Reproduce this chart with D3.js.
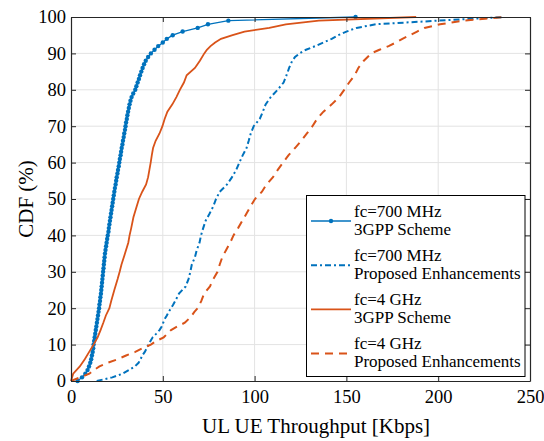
<!DOCTYPE html>
<html>
<head>
<meta charset="utf-8">
<script src="https://cdn.jsdelivr.net/npm/d3@7"></script>
<style>
  body { margin: 0; background: #fff; }
  svg { display: block; font-family: "Liberation Serif", "Times New Roman", serif; }
</style>
</head>
<body>
<svg id="chart" width="544" height="441"></svg>
<script>
// CDF levels (%) and throughput (Kbps) for each curve
const LEVELS_700_3GPP = [0,1,2,3,4,5,6,7,8,9,10,11,12,13,14,15,16,17,18,19,20,21,22,23,24,25,26,27,28,29,30,31,32,33,34,35,36,37,38,39,40,41,42,43,44,45,46,47,48,49,50,51,52,53,54,55,56,57,58,59,60,61,62,63,64,65,66,67,68,69,70,71,72,73,74,75,76,77,78,79,80,81,82,83,84,85,86,87,88,89,90,91,92,93,94,95,96,97,98,99,100]
const TPUT_700_3GPP = [3.6,6.0,7.8,9.0,9.8,10.5,11.0,11.4,11.8,12.1,12.3,12.6,12.9,13.2,13.5,13.8,14.1,14.4,14.7,15.0,15.3,15.5,15.8,16.0,16.3,16.5,16.7,16.9,17.1,17.3,17.5,17.7,17.9,18.1,18.3,18.5,18.8,19.1,19.4,19.7,20.0,20.4,20.6,20.9,21.2,21.5,21.8,22.1,22.4,22.7,23.0,23.3,23.6,23.9,24.3,24.6,24.9,25.3,25.6,26.0,26.3,26.6,27.0,27.3,27.6,28.0,28.3,28.7,29.0,29.4,29.7,30.0,30.4,30.7,31.1,31.5,31.9,32.4,33.0,33.9,35.0,35.6,36.3,37.0,37.6,38.3,39.0,39.8,40.7,42.0,43.5,45.5,47.5,50.0,52.2,55.4,60.8,69.0,74.6,85.7,155]

const LEVELS_700_PROP = [0,1,2,3,4,5,6,7,8,9,10,11,12,13,14,15,16,17,18,19,20,21,22,24,26,28,30,32,34,36,38,40,42,44,46,48,50,52,54,56,58,60,62,64,66,68,70,72,74,76,78,80,82,84,86,88,89,90,91,92,93,94,95,96,97,98,99,100]
const TPUT_700_PROP = [14,22.5,28,31.5,34.8,36.8,37.9,38.8,40.2,41.2,42.2,43.3,44.5,46.5,48.2,49.5,50.2,51,52.2,53.2,54.5,55.7,56.8,58.8,62.5,64,65,65.8,67.5,68.5,70,70.8,72,73.3,75.5,77.5,79,81,85,87.7,90,91.7,93.5,95.6,96.8,97.9,99.5,102.8,104.5,106,108.8,112.5,115.8,117.4,118.8,120.5,122,124.5,128,133,137.5,142,145.5,150,155.5,166,200,236]

const LEVELS_4G_3GPP = [0,2,4,6,8,10,12,14,16,18,20,22,25,28,30,32,35,38,40,42,45,48,50,52,54,56,58,60,62,64,66,68,70,72,74,76,78,80,82,84,86,88,90,91,92,93,94,95,96,97,98,99,100]
const TPUT_4G_3GPP = [0,1.2,4.8,7.5,9.9,12.3,14.5,16.1,17.6,19.0,20.9,21.9,23.6,25.4,26.5,27.5,29.4,31.2,31.9,32.8,34.0,35.8,37.0,38.8,40.9,42.0,42.7,43.4,44.0,44.7,46.1,48.2,49.8,51.0,52.5,55.2,57.4,59.3,61.5,63.0,67.5,70.2,72.6,74.0,76.0,78.5,81.7,88.0,94.5,108,117,135,188]

const LEVELS_4G_PROP = [0,1,2,3,4,5,6,7,8,9,10,11,12,13,14,15,16,17,18,19,20,22,24,26,28,30,32,34,36,38,40,42,44,46,48,50,52,54,56,58,60,62,64,66,68,70,72,74,76,78,80,82,84,86,88,90,91,92,93,94,95,96,97,98,99,100]
const TPUT_4G_PROP = [0,5,10,12.5,15.5,20,25.5,30,35,39,43.5,46.5,50.5,52.5,54.5,58,62,64,65.8,67.2,69,71,72.5,75.7,77.5,79.8,81,82.4,84.5,86.7,88.5,91,93.3,95.6,97.8,100.2,104,106.5,110,112.6,115.5,118.4,122,125.4,128.5,131.5,134,137.5,142,146,148.8,151.5,154.5,156.5,159.5,163.5,168,173,177,180.5,184.6,188.5,192.5,201,213.7,235.5]

const X_TICKS = [0, 50, 100, 150, 200, 250]
const Y_TICKS = [0, 10, 20, 30, 40, 50, 60, 70, 80, 90, 100]

const SERIES_NAMES = [
  ['fc=700 MHz', '3GPP Scheme'],
  ['fc=700 MHz', 'Proposed Enhancements'],
  ['fc=4 GHz', '3GPP Scheme'],
  ['fc=4 GHz', 'Proposed Enhancements']
]

const BLUE = '#0072BD'
const ORANGE = '#D95319'
const FONT = '"Liberation Serif", "Times New Roman", serif'

let svg = d3.select('#chart')
let plotLeft = 71, plotRight = 530, plotTop = 17, plotBottom = 381

let x = d3.scaleLinear().domain([0, 250]).range([plotLeft, plotRight])
let y = d3.scaleLinear().domain([0, 100]).range([plotBottom, plotTop])

// grid
svg.append('g').selectAll('line')
  .data(X_TICKS.slice(1, -1))
  .enter().append('line')
  .attr('x1', d => x(d)).attr('x2', d => x(d))
  .attr('y1', plotTop).attr('y2', plotBottom)
  .attr('stroke', '#e3e3e3').attr('stroke-width', 1)
svg.append('g').selectAll('line')
  .data(Y_TICKS.slice(1, -1))
  .enter().append('line')
  .attr('x1', plotLeft).attr('x2', plotRight)
  .attr('y1', d => y(d)).attr('y2', d => y(d))
  .attr('stroke', '#e3e3e3').attr('stroke-width', 1)

// curves
let series = [
  { xs: TPUT_700_3GPP, ys: LEVELS_700_3GPP, color: BLUE, width: 1.3, dash: null, marker: true },
  { xs: TPUT_700_PROP, ys: LEVELS_700_PROP, color: BLUE, width: 2, dash: '6,3,2,3', marker: false },
  { xs: TPUT_4G_3GPP, ys: LEVELS_4G_3GPP, color: ORANGE, width: 1.8, dash: null, marker: false },
  { xs: TPUT_4G_PROP, ys: LEVELS_4G_PROP, color: ORANGE, width: 2, dash: '8,6', marker: false }
]

let line = d3.line().x(d => x(d[0])).y(d => y(d[1]))

series.forEach(s => {
  let pts = s.xs.map((v, i) => [v, s.ys[i]])
  svg.append('path')
    .datum(pts)
    .attr('d', line)
    .attr('fill', 'none')
    .attr('stroke', s.color)
    .attr('stroke-width', s.width)
    .attr('stroke-dasharray', s.dash)
  if (s.marker) {
    svg.append('g').selectAll('circle')
      .data(pts)
      .enter().append('circle')
      .attr('cx', d => x(d[0]))
      .attr('cy', d => y(d[1]))
      .attr('r', 2.2)
      .attr('fill', s.color)
  }
})

// axes (box with inward ticks)
let axisColor = '#262626'
let xb = svg.append('g').attr('transform', `translate(0,${plotBottom})`)
  .call(d3.axisBottom(x).tickValues(X_TICKS).tickSizeInner(-5).tickSizeOuter(0).tickPadding(9))
let xt = svg.append('g').attr('transform', `translate(0,${plotTop})`)
  .call(d3.axisTop(x).tickValues(X_TICKS).tickSizeInner(-5).tickSizeOuter(0).tickFormat(''))
let yl = svg.append('g').attr('transform', `translate(${plotLeft},0)`)
  .call(d3.axisLeft(y).tickValues(Y_TICKS).tickSizeInner(-5).tickSizeOuter(0).tickPadding(5))
let yr = svg.append('g').attr('transform', `translate(${plotRight},0)`)
  .call(d3.axisRight(y).tickValues(Y_TICKS).tickSizeInner(-5).tickSizeOuter(0).tickFormat(''))

;[xb, xt, yl, yr].forEach(g => {
  g.attr('font-family', FONT).attr('font-size', 18.5)
  g.select('.domain').attr('stroke', axisColor).attr('stroke-width', 1.2)
  g.selectAll('.tick line').attr('stroke', axisColor)
  g.selectAll('text').attr('fill', '#000')
})
xb.selectAll('text').attr('dy', '0.71em')

// axis labels
svg.append('text')
  .attr('x', 202)
  .attr('y', 432.5)
  .attr('font-family', FONT)
  .attr('font-size', 21)
  .text('UL UE Throughput [Kbps]')

svg.append('text')
  .attr('transform', `translate(33,${(plotTop + plotBottom) / 2}) rotate(-90)`)
  .attr('text-anchor', 'middle')
  .attr('font-family', FONT)
  .attr('font-size', 21)
  .text('CDF (%)')

// legend
let legend = svg.append('g')
legend.append('rect')
  .attr('x', 306.5).attr('y', 195.5)
  .attr('width', 218.5).attr('height', 181)
  .attr('fill', '#fff')
  .attr('stroke', '#000').attr('stroke-width', 1)

let items = legend.selectAll('g.item')
  .data(series)
  .enter().append('g')
  .attr('class', 'item')
  .attr('transform', (d, i) => `translate(0,${i * 44.2})`)

items.append('line')
  .attr('x1', 311).attr('x2', 351)
  .attr('y1', 221).attr('y2', 221)
  .attr('stroke', d => d.color)
  .attr('stroke-width', d => d.width)
  .attr('stroke-dasharray', d => d.dash)

items.filter(d => d.marker).append('circle')
  .attr('cx', 331).attr('cy', 221).attr('r', 2.2)
  .attr('fill', d => d.color)

items.each(function (d, i) {
  let g = d3.select(this)
  SERIES_NAMES[i].forEach((t, j) => {
    g.append('text')
      .attr('x', 354)
      .attr('y', 216.5 + j * 18.4)
      .attr('font-family', FONT)
      .attr('font-size', 17)
      .text(t)
  })
})
</script>
</body>
</html>
